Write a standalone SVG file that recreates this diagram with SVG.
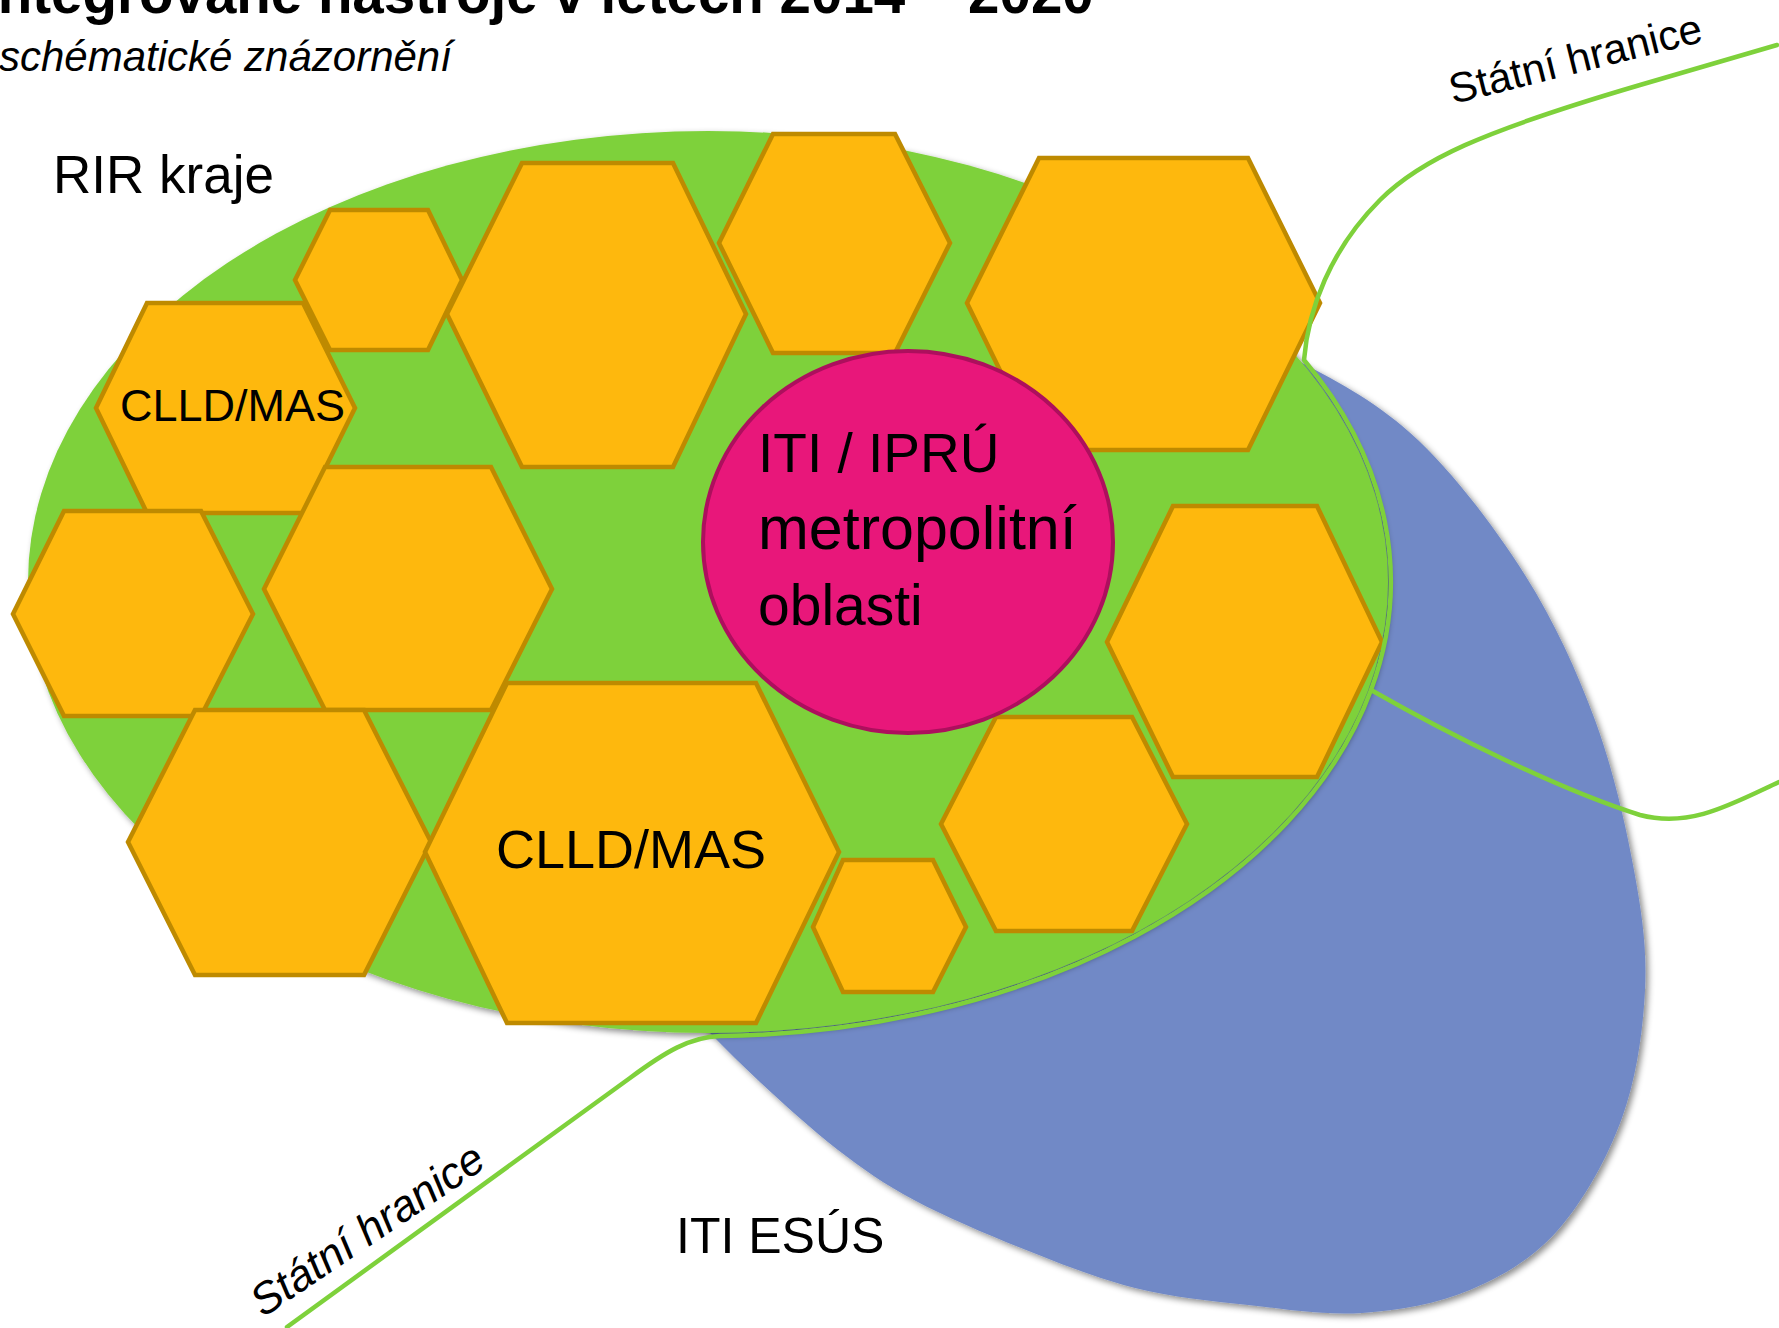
<svg xmlns="http://www.w3.org/2000/svg" width="1779" height="1328" viewBox="0 0 1779 1328">
  <defs>
    <filter id="shadow" x="-10%" y="-10%" width="120%" height="120%">
      <feDropShadow dx="3" dy="3" stdDeviation="3" flood-color="#000" flood-opacity="0.45"/>
    </filter>
  </defs>
  <style>
    .hex { fill: #FEB80D; stroke: #BE8A00; stroke-width: 4.5; stroke-linejoin: miter; }
    .lbl { font-family: "Liberation Sans", Arial, sans-serif; fill: #000; }
    .border { fill: none; stroke: #7ED13B; stroke-width: 4.5; stroke-linecap: round; stroke-linejoin: round; }
  </style>
  <rect width="1779" height="1328" fill="#fff"/>

  <!-- titles -->
  <text class="lbl" x="-18" y="13" font-size="56.5" font-weight="bold">Integrované nástroje v letech 2014 – 2020</text>
  <text class="lbl" x="-1" y="71" font-size="42" font-style="italic">schématické znázornění</text>

  <g id="iti-esus">
    <path fill="#7189C6" filter="url(#shadow)" d="M1180,318 C1230,315 1260.3,341.7 1300,362 C1339.7,382.3 1380.5,404.5 1418,440 C1455.5,475.5 1495.5,528.3 1525,575 C1554.5,621.7 1576.8,670.8 1595,720 C1613.2,769.2 1625.7,825 1634,870 C1642.3,915 1647,948.7 1645,990 C1643,1031.3 1636.5,1078 1622,1118 C1607.5,1158 1583.3,1201.3 1558,1230 C1532.7,1258.7 1502.7,1276.2 1470,1290 C1437.3,1303.8 1399,1310.5 1362,1313 C1325,1315.5 1285.8,1309.2 1248,1305 C1210.2,1300.8 1172.8,1297.5 1135,1288 C1097.2,1278.5 1057.8,1262.7 1021,1248 C984.2,1233.3 944.5,1216.3 914,1200 C883.5,1183.7 863.5,1169.5 838,1150 C812.5,1130.5 782.3,1102.5 761,1083 C743,1066.5 727,1050 710,1033 C690,1013 631.7,958.8 640,880 C648.3,801.2 700,643.3 760,560 C820,476.7 930,420.3 1000,380 C1070,339.7 1130,321 1180,318 Z"/>
    <text class="lbl" x="676" y="1253" font-size="50">ITI ESÚS</text>
  </g>

  <g id="rir-kraje">
    <ellipse cx="708" cy="582" rx="680" ry="451" fill="#7ED13B" filter="url(#shadow)"/>
    <text class="lbl" x="53" y="193" font-size="53">RIR kraje</text>
  </g>

  <g id="hex1"><polygon class="hex" points="295,280 330,210 428,210 462,280 428,350 330,350"/></g>
  <g id="hex2">
    <polygon class="hex" points="96,408 147,303 303,303 355,408 303,513 147,513"/>
    <text class="lbl" x="120" y="421" font-size="45">CLLD/MAS</text>
  </g>
  <g id="hex3"><polygon class="hex" points="447,314 522,163 673,163 746,314 673,467 522,467"/></g>
  <g id="hex4"><polygon class="hex" points="719,243 773,134 895,134 950,243 895,353 773,353"/></g>
  <g id="hex5"><polygon class="hex" points="967,303 1039,158 1248,158 1320,303 1248,450 1039,450"/></g>
  <g id="hex6"><polygon class="hex" points="1107,642 1173,506 1317,506 1382,642 1317,777 1173,777"/></g>
  <g id="hex7"><polygon class="hex" points="13,614 64,511 201,511 253,614 201,716 64,716"/></g>
  <g id="hex8"><polygon class="hex" points="264,589 325,467 491,467 552,589 491,710 325,710"/></g>
  <g id="hex9"><polygon class="hex" points="128,842 195,710 364,710 431,842 364,975 195,975"/></g>
  <g id="hex10">
    <polygon class="hex" points="425,852 507,683 756,683 839,852 756,1023 507,1023"/>
    <text class="lbl" x="496" y="868" font-size="54">CLLD/MAS</text>
  </g>
  <g id="hex11"><polygon class="hex" points="813,927 843,860 933,860 966,927 933,992 843,992"/></g>
  <g id="hex12"><polygon class="hex" points="941,824 996,717 1132,717 1187,824 1132,931 996,931"/></g>

  <g id="iti-ipru">
    <ellipse cx="908" cy="542" rx="205" ry="191" fill="#E8177A" stroke="#AD0F5D" stroke-width="4"/>
    <text class="lbl" x="758" y="472" font-size="55">ITI / IPRÚ</text>
    <text class="lbl" x="758" y="549" font-size="61">metropolitní</text>
    <text class="lbl" x="758" y="625" font-size="57">oblasti</text>
  </g>

  <g id="connectors">
    <path class="border" d="M1777,45 L1640,85 C1480,132 1420,160 1380,200 C1330,250 1308,310 1304,360 A683,454 0 0 1 1371,690 C1450,735 1560,790 1640,815 C1690,828 1730,805 1779,782"/>
    <path class="border" d="M287,1327 L630,1078 C665,1052 690,1037 720,1036 A683,454 0 0 0 1371,690"/>
  </g>

  <g id="labels-border">
    <text class="lbl" x="1453" y="104" font-size="42" transform="rotate(-14 1453 104)">Státní hranice</text>
    <text class="lbl" x="263" y="1318" font-size="44" font-style="italic" transform="rotate(-34 263 1318)">Státní hranice</text>
  </g>
</svg>
